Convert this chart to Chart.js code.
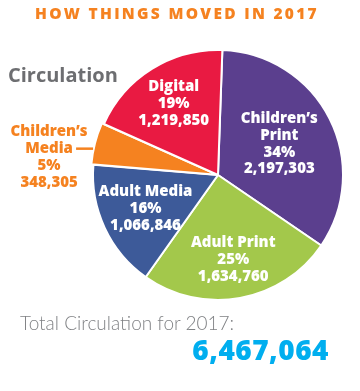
<!DOCTYPE html>
<html>
<head>
<meta charset="utf-8">
<script src="https://cdn.jsdelivr.net/npm/chart.js@4/dist/chart.umd.min.js"></script>
<style>
  html, body { margin: 0; padding: 0; background: #fff; }
  #wrap { position: relative; width: 360px; height: 391px; overflow: hidden; }
  #c { position: absolute; left: 0; top: 0; }
  .t { position: absolute; white-space: nowrap; font-family: "Open Sans", sans-serif; }
  #title { left: 0; width: 354px; top: 2px; text-align: center; color: #F58220; font-weight: 800; font-size: 15.5px; letter-spacing: 2.3px; }
  #sub { left: 8px; top: 61px; color: #6D6E71; font-weight: 700; font-size: 20px; }
  #totlab { left: 20px; top: 311px; color: #808285; font-family: Lato, sans-serif; font-weight: 300; font-size: 19px; }
  #totval { right: 31px; top: 330px; color: #00AEEF; font-weight: 800; font-size: 28px; letter-spacing: 0.5px; }
</style>
</head>
<body>
<div id="wrap">
  <canvas id="c" width="360" height="391"></canvas>
  <div class="t" id="title">HOW THINGS MOVED IN 2017</div>
  <div class="t" id="sub">Circulation</div>
  <div class="t" id="totlab">Total Circulation for 2017:</div>
  <div class="t" id="totval"></div>
</div>
<script>
const categories = ["Children’s Print", "Adult Print", "Adult Media", "Children’s Media", "Digital"];
const labelLines = [["Children’s", "Print"], ["Adult Print"], ["Adult Media"], ["Children’s", "Media"], ["Digital"]];
const values = [2197303, 1634760, 1066846, 348305, 1219850];
const percents = [34, 25, 16, 5, 19];
const colors = ["#5B3F8E", "#A3C84B", "#3D5A99", "#F58220", "#E91A42"];
const offsets = [0, 0, 0, 5, 0];
const labelRadius = [0.55, 0.69, 0.64, 1, 0.67];

const total = values.reduce((a, b) => a + b, 0);
document.getElementById('totval').textContent = total.toLocaleString('en-US');

const labelPlugin = {
  id: 'sliceLabels',
  afterDatasetsDraw(chart) {
    const ctx = chart.ctx;
    const meta = chart.getDatasetMeta(0);
    ctx.save();
    ctx.textAlign = 'center';
    ctx.textBaseline = 'middle';
    const fs = 15, lh = 16.8;
    ctx.font = '800 ' + fs + 'px "Open Sans", sans-serif';
    meta.data.forEach((arc, i) => {
      const p = arc.getProps(['x', 'y', 'startAngle', 'endAngle', 'outerRadius'], true);
      const mid = (p.startAngle + p.endAngle) / 2;
      const lines = labelLines[i].concat([percents[i] + '%', values[i].toLocaleString('en-US')]);
      if (i === 3) {
        const off = offsets[i];
        const ex = p.x + Math.cos(mid) * (p.outerRadius + off);
        const ey = p.y + Math.sin(mid) * (p.outerRadius + off) + 6;
        const lx = ex - 16;
        ctx.strokeStyle = colors[i];
        ctx.lineWidth = 2.5;
        ctx.beginPath();
        ctx.moveTo(ex + 1, ey);
        ctx.lineTo(lx, ey);
        ctx.stroke();
        ctx.fillStyle = colors[i];
        const cx = lx - 27;
        lines.forEach((t, k) => {
          ctx.fillText(t, cx, ey + (k - 1) * lh);
        });
      } else {
        const r = p.outerRadius * labelRadius[i];
        const cx = p.x + Math.cos(mid) * r;
        const cy = p.y + Math.sin(mid) * r;
        ctx.fillStyle = '#ffffff';
        const n = lines.length;
        lines.forEach((t, k) => {
          ctx.fillText(t, cx, cy + (k - (n - 1) / 2) * lh);
        });
      }
    });
    ctx.restore();
  }
};

new Chart(document.getElementById('c'), {
  type: 'pie',
  data: {
    labels: categories,
    datasets: [{
      data: values,
      backgroundColor: colors,
      borderColor: '#ffffff',
      borderWidth: 2,
      offset: offsets
    }]
  },
  options: {
    responsive: false,
    animation: false,
    rotation: 2,
    radius: 125,
    layout: { padding: { left: 76, right: 0, top: 0, bottom: 41 } },
    plugins: { legend: { display: false }, tooltip: { enabled: false }, title: { display: false } }
  },
  plugins: [labelPlugin]
});
</script>
</body>
</html>
